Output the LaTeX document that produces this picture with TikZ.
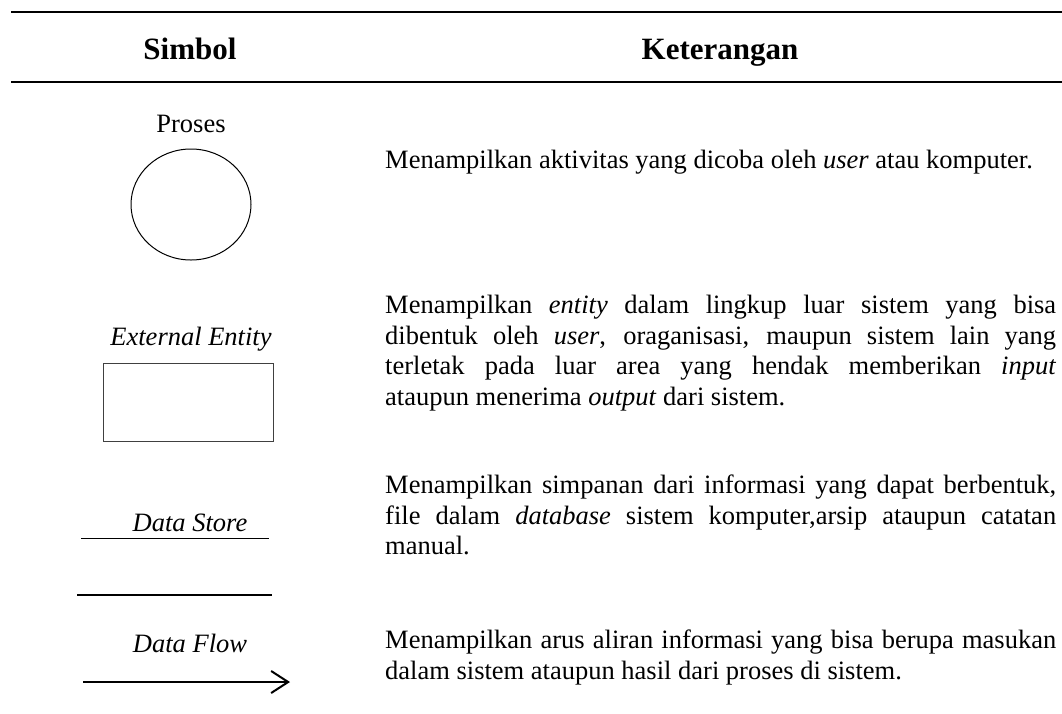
\documentclass[tikz,border=0pt]{standalone}
\usepackage{fontspec}
\setmainfont{Liberation Serif}
\usetikzlibrary{shapes.geometric,arrows.meta}
% first-line strut fixing the distance from the top of a text block to its first baseline
\newcommand{\firststrut}{\hyphenpenalty=10000\relax\tolerance=10000\relax\vrule width 0pt height 21pt depth 0pt\relax}
\begin{document}
\begin{tikzpicture}[x=1pt,y=-1pt,
  rule/.style={line width=2pt},
  head/.style={font=\fontsize{31}{36}\selectfont\bfseries, inner sep=0pt, anchor=base},
  symlabel/.style={font=\fontsize{26.5}{30.8}\selectfont, inner sep=0pt, anchor=base},
  desc/.style={font=\fontsize{26.5}{30.8}\selectfont,
    inner sep=0pt, anchor=north west, text width=671pt, align=justify},
  thin/.style={line width=1pt},
]
\useasboundingbox (0,0) rectangle (1062,713);

% table rules
\coordinate (r1l) at (11,12);   \coordinate (r1r) at (1062,12);
\coordinate (r2l) at (11,82);   \coordinate (r2r) at (1062,82);
\draw[rule] (r1l) -- (r1r);
\draw[rule] (r2l) -- (r2r);

% header
\node[head] (hsym) at (190,59) {Simbol};
\node[head] (hket) at (720,59) {Keterangan};

% process
\node[symlabel] (lproc) at (191,132) {Proses};
\node[draw, thin, ellipse, minimum width=120pt, minimum height=111pt, inner sep=0pt] (proc) at (191,204.5) {};
\node[desc] (dproc) at (385,147) {\firststrut Menampilkan aktivitas yang dicoba oleh \textit{user} atau komputer.};

% external entity
\node[symlabel] (lent) at (191,345) {\textit{External Entity}};
\node[draw=black!75, thin, rectangle, minimum width=170pt, minimum height=78pt, inner sep=0pt] (ent) at (188,402) {};
\node[desc] (dent) at (385,292) {\firststrut Menampilkan \textit{entity} dalam lingkup luar sistem yang bisa\linebreak
dibentuk oleh \textit{user}, oraganisasi, maupun sistem lain yang\linebreak
terletak pada luar area yang hendak memberikan \textit{input}\linebreak
ataupun menerima \textit{output} dari sistem.};

% data store
\node[symlabel] (lstore) at (190,531) {\textit{Data Store}};
\coordinate (st1a) at (81,538);  \coordinate (st1b) at (269,538);
\coordinate (st2a) at (77,595);  \coordinate (st2b) at (272,595);
\draw[thin] (st1a) -- (st1b);
\draw[line width=2pt] (st2a) -- (st2b);
\node[desc] (dstore) at (385,472) {\firststrut Menampilkan simpanan dari informasi yang dapat berbentuk,\linebreak
file dalam \textit{database} sistem komputer,arsip ataupun catatan\linebreak
manual.};

% data flow
\node[symlabel] (lflow) at (190,652) {\textit{Data Flow}};
\coordinate (fla) at (83,682);  \coordinate (flb) at (290,682);
\draw[line width=2pt, -{Straight Barb[length=17pt, width=22pt, line width=2pt]}] (fla) -- (flb);
\node[desc] (dflow) at (385,627) {\firststrut Menampilkan arus aliran informasi yang bisa berupa masukan\linebreak
dalam sistem ataupun hasil dari proses di sistem.};
\end{tikzpicture}
\end{document}
